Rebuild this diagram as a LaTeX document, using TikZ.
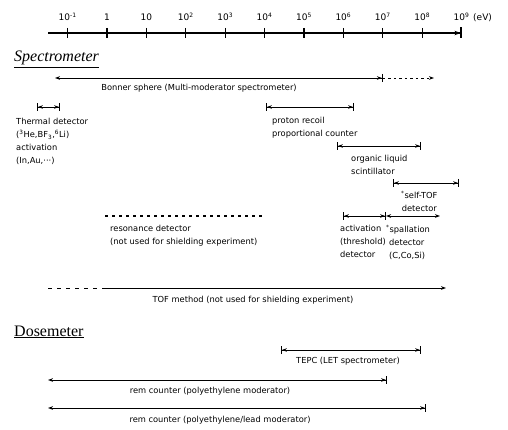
\documentclass[tikz,border=0pt]{standalone}
\usepackage{fontspec}
\setmainfont{DejaVu Sans}
\newfontfamily\titlefont{Liberation Serif}
\usetikzlibrary{arrows.meta,calc}
\begin{document}
\begin{tikzpicture}[x=1pt,y=-1pt,
  lbl/.style={font=\fontsize{8.3}{13}\selectfont, inner sep=0pt, align=left},
  axlbl/.style={font=\fontsize{9}{10}\selectfont, inner sep=0pt, anchor=base},
  ttl/.style={font=\titlefont\fontsize{16}{17}\selectfont, inner sep=0pt, anchor=base west},
  rng/.style={line width=0.9pt},
  bothbar/.style={rng, {Bar[width=8pt]Stealth[length=5pt,width=3.6pt]}-{Stealth[length=5pt,width=3.6pt]Bar[width=8pt]}},
  endbar/.style={rng, {Stealth[length=5pt,width=3.6pt]}-{Stealth[length=5pt,width=3.6pt]Bar[width=8pt]}},
  both/.style={rng, {Stealth[length=5pt,width=3.6pt]}-{Stealth[length=5pt,width=3.6pt]}},
]
\useasboundingbox (0,0) rectangle (508,430);

% ---- axis ----
\coordinate (axs) at (48,33);
\coordinate (axe) at (461.6,33);
\draw[line width=1.2pt, -{Stealth[length=6pt,width=4.5pt]Bar[width=11pt]}] (axs) -- (axe);
\foreach \i/\lab in {0/10\textsuperscript{-1},1/1,2/10,3/10\textsuperscript{2},4/10\textsuperscript{3},5/10\textsuperscript{4},6/10\textsuperscript{5},7/10\textsuperscript{6},8/10\textsuperscript{7},9/10\textsuperscript{8}}{
  \coordinate (t\i) at ({67.6+39.4*\i},33);
  \draw[line width=1.2pt] ($(t\i)+(0,-5)$) -- ($(t\i)+(0,5)$);
  \node[axlbl] (l\i) at ({67.6+39.4*\i},21) {\lab};
}
\node[axlbl] (l10) at (461.6,21) {10\textsuperscript{9}};
\node[axlbl, anchor=base west] (unit) at (473,21) {(eV)};

% ---- titles ----
\node[ttl] (spec) at (14,62) {\underline{\itshape Spectrometer}};
\node[ttl] (dose) at (14,336) {\underline{Dosemeter}};

% ---- Bonner sphere ----
\coordinate (bs) at (55,78);
\coordinate (bm) at (382.8,78);
\coordinate (be) at (434,78);
\draw[endbar] (bs) -- (bm);
\draw[rng, dash pattern=on 2.5pt off 3pt, -{Stealth[length=5pt,width=3.6pt]}] (bm) -- (be);
\node[lbl, anchor=north] (bl) at (199,84) {Bonner sphere (Multi-moderator spectrometer)};

% ---- Thermal detector ----
\coordinate (ts) at (37,107);
\coordinate (te) at (60,107);
\draw[bothbar] (ts) -- (te);
\node[lbl, anchor=north west] (tl) at (16,118) {Thermal detector\\(\textsuperscript{3}He,BF\textsubscript{3},\textsuperscript{6}Li)\\activation\\(In,Au,···)};

% ---- proton recoil ----
\coordinate (ps) at (266,107);
\coordinate (pe) at (354,107);
\draw[bothbar] (ps) -- (pe);
\node[lbl, anchor=north west] (pl) at (272,117) {proton recoil\\proportional counter};

% ---- organic liquid scintillator ----
\coordinate (os) at (337,146);
\coordinate (oe) at (421,146);
\draw[bothbar] (os) -- (oe);
\node[lbl, anchor=north west] (ol) at (351,155) {organic liquid\\scintillator};

% ---- self-TOF ----
\coordinate (ss) at (393,183);
\coordinate (se) at (459,183);
\draw[bothbar] (ss) -- (se);
\node[lbl, anchor=north west, align=center] (sl) at (401,191) {\textsuperscript{*}self-TOF\\detector};

% ---- activation / spallation ----
\coordinate (as) at (343,216);
\coordinate (am) at (386,216);
\coordinate (ae) at (440,216);
\draw[bothbar] (as) -- (am);
\draw[both] (am) -- (ae);
\node[lbl, anchor=north west] (al) at (340,225) {activation\\(threshold)\\detector};
\node[lbl, anchor=north west] (spl) at (386,225) {\textsuperscript{*}spallation\\\hspace*{3pt}detector\\\hspace*{3pt}(C,Co,Si)};

% ---- resonance detector ----
\coordinate (rs) at (105,216);
\coordinate (re) at (262,216);
\draw[line width=1.1pt, dash pattern=on 3pt off 4pt] (rs) -- (re);
\node[lbl, anchor=north west] (rl) at (110,225) {resonance detector\\(not used for shielding experiment)};

% ---- TOF method ----
\coordinate (fs) at (48,288);
\coordinate (fm) at (104,288);
\coordinate (fe) at (446,288);
\draw[rng, dash pattern=on 4pt off 5pt] (fs) -- (fm);
\draw[rng, -{Stealth[length=5pt,width=3.6pt]}] (fm) -- (fe);
\node[lbl, anchor=north] (fl) at (253,296) {TOF method (not used for shielding experiment)};

% ---- Dosemeter ----
\coordinate (cs) at (281,350);
\coordinate (ce) at (421,350);
\draw[bothbar] (cs) -- (ce);
\node[lbl, anchor=north] (cl) at (348,357) {TEPC (LET spectrometer)};

\coordinate (r1s) at (48,380);
\coordinate (r1e) at (387,380);
\draw[endbar] (r1s) -- (r1e);
\node[lbl, anchor=north] (r1l) at (210,387) {rem counter (polyethylene moderator)};

\coordinate (r2s) at (48,408);
\coordinate (r2e) at (426,408);
\draw[endbar] (r2s) -- (r2e);
\node[lbl, anchor=north] (r2l) at (220,416) {rem counter (polyethylene/lead moderator)};
\end{tikzpicture}
\end{document}
